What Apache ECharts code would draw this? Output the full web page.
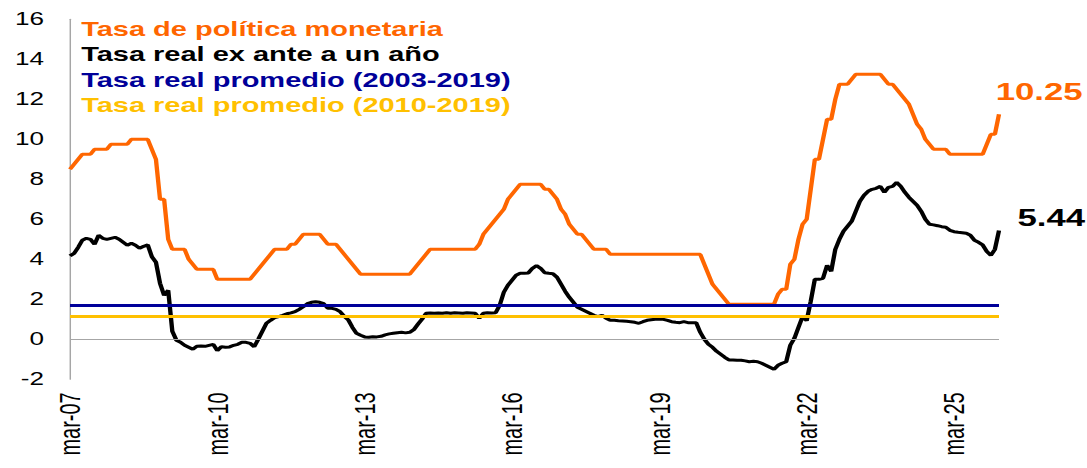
<!DOCTYPE html>
<html>
<head>
<meta charset="utf-8">
<script src="https://cdn.jsdelivr.net/npm/echarts@6.0.0/dist/echarts.min.js"></script>
<style>
  html, body { margin: 0; padding: 0; overflow: hidden; background: #fff; }
  /* the source picture is stretched sideways, so the chart is drawn narrow and widened */
  #chart { width: 750px; height: 468px; transform: scaleX(1.4493); transform-origin: 0 0; }
</style>
</head>
<body>
<div id="chart"></div>
<script>
// monthly, mar-07 .. feb-26
const meses = ['ene', 'feb', 'mar', 'abr', 'may', 'jun', 'jul', 'ago', 'sep', 'oct', 'nov', 'dic'];
const categories = [];
for (let k = 0; k < 228; k++) {
  const m = (2 + k) % 12;
  const y = 7 + Math.floor((2 + k) / 12);
  categories.push(meses[m] + '-' + String(y).padStart(2, '0'));
}

const tasaPolitica = [
  8.5, 8.75, 9.0, 9.25, 9.25, 9.25, 9.5, 9.5, 9.5, 9.5, 9.75, 9.75,
  9.75, 9.75, 9.75, 10, 10, 10, 10, 10, 9.5, 9.0, 7.0, 7.0,
  5.0, 4.5, 4.5, 4.5, 4.5, 4.0, 3.75, 3.5, 3.5, 3.5, 3.5, 3.5,
  3.0, 3.0, 3.0, 3.0, 3.0, 3.0, 3.0, 3.0, 3.0, 3.25, 3.5, 3.75,
  4.0, 4.25, 4.5, 4.5, 4.5, 4.5, 4.75, 4.75, 5.0, 5.25, 5.25, 5.25,
  5.25, 5.25, 5.0, 4.75, 4.75, 4.75, 4.5, 4.25, 4.0, 3.75, 3.5, 3.25,
  3.25, 3.25, 3.25, 3.25, 3.25, 3.25, 3.25, 3.25, 3.25, 3.25, 3.25, 3.25,
  3.5, 3.75, 4.0, 4.25, 4.5, 4.5, 4.5, 4.5, 4.5, 4.5, 4.5, 4.5,
  4.5, 4.5, 4.5, 4.5, 4.75, 5.25, 5.5, 5.75, 6.0, 6.25, 6.5, 7.0,
  7.25, 7.5, 7.75, 7.75, 7.75, 7.75, 7.75, 7.75, 7.5, 7.5, 7.25, 7.0,
  6.5, 6.25, 5.75, 5.5, 5.25, 5.25, 5.0, 4.75, 4.5, 4.5, 4.5, 4.5,
  4.25, 4.25, 4.25, 4.25, 4.25, 4.25, 4.25, 4.25, 4.25, 4.25, 4.25, 4.25,
  4.25, 4.25, 4.25, 4.25, 4.25, 4.25, 4.25, 4.25, 4.25, 4.25, 4.25, 3.75,
  3.25, 2.75, 2.5, 2.25, 2.0, 1.75, 1.75, 1.75, 1.75, 1.75, 1.75, 1.75,
  1.75, 1.75, 1.75, 1.75, 1.75, 2.25, 2.5, 2.5, 3.75, 4.0, 5.0, 5.75,
  6.0, 7.5, 9.0, 9.0, 10.0, 11.0, 11.0, 12.0, 12.75, 12.75, 12.75, 13.0,
  13.25, 13.25, 13.25, 13.25, 13.25, 13.25, 13.25, 13.0, 12.75, 12.75, 12.5, 12.25,
  12.0, 11.75, 11.25, 10.75, 10.5, 10.0, 9.75, 9.5, 9.5, 9.5, 9.5, 9.25,
  9.25, 9.25, 9.25, 9.25, 9.25, 9.25, 9.25, 9.25, 9.75, 10.25, 10.25, 11.25
];

const tasaRealExAnte = [
  4.17, 4.3, 4.6, 4.95, 5.05, 5.0, 4.75, 5.2, 5.05, 5.0, 5.05, 5.1,
  5.0, 4.85, 4.7, 4.8, 4.7, 4.55, 4.65, 4.72, 4.13, 3.85, 2.8, 2.2,
  2.45, 0.4, -0.05, -0.15, -0.3, -0.4, -0.5, -0.35, -0.33, -0.35, -0.3, -0.25,
  -0.57, -0.37, -0.4, -0.38, -0.3, -0.25, -0.15, -0.15, -0.2, -0.37, 0.0, 0.4,
  0.8, 0.95, 1.08, 1.13, 1.2, 1.28, 1.32, 1.38, 1.5, 1.63, 1.78, 1.85,
  1.88, 1.85, 1.78, 1.55, 1.55, 1.5, 1.38, 1.15, 0.97, 0.6, 0.3, 0.2,
  0.12, 0.1, 0.13, 0.12, 0.15, 0.22, 0.27, 0.3, 0.33, 0.35, 0.32, 0.35,
  0.48, 0.75, 1.0, 1.3, 1.32, 1.3, 1.32, 1.3, 1.33, 1.3, 1.33, 1.32,
  1.3, 1.33, 1.32, 1.3, 1.05, 1.3, 1.33, 1.32, 1.33, 1.7, 2.35, 2.7,
  2.95, 3.2, 3.3, 3.3, 3.32, 3.55, 3.68, 3.55, 3.33, 3.3, 3.28, 3.1,
  2.75, 2.4, 2.1, 1.85, 1.6, 1.5, 1.4, 1.3, 1.2, 1.13, 1.2, 1.05,
  0.95, 0.95, 0.93, 0.92, 0.9, 0.88, 0.85, 0.8, 0.88, 0.95, 0.98, 1.0,
  1.0, 1.0, 0.95, 0.88, 0.85, 0.83, 0.88, 0.83, 0.83, 0.83, 0.35, 0.0,
  -0.25, -0.4, -0.6, -0.75, -0.9, -1.03, -1.03, -1.05, -1.05, -1.08, -1.12, -1.1,
  -1.12, -1.2, -1.3, -1.4, -1.5, -1.3, -1.2, -1.12, -0.3, 0.05, 0.6, 1.13,
  0.93, 1.9, 3.0, 3.0, 3.05, 3.7, 3.4, 4.5, 5.0, 5.4, 5.65, 5.9,
  6.4, 6.9, 7.2, 7.4, 7.5, 7.55, 7.65, 7.35, 7.6, 7.65, 7.85, 7.65,
  7.35, 7.1, 6.9, 6.7, 6.4, 6.0, 5.75, 5.72, 5.68, 5.63, 5.6, 5.45,
  5.38, 5.35, 5.33, 5.3, 5.2, 4.95, 4.85, 4.72, 4.4, 4.2, 4.5, 5.44
];

const promedio2003_2019 = 1.71;
const promedio2010_2019 = 1.16;

const etiquetaPolitica = '10.25';
const etiquetaReal = '5.44';

const yMin = -2, yMax = 16, yStep = 2;

const leyenda = [
  { name: 'Tasa de política monetaria', color: '#FF6600' },
  { name: 'Tasa real ex ante a un año', color: '#000000' },
  { name: 'Tasa real promedio (2003-2019)', color: '#000099' },
  { name: 'Tasa real promedio (2010-2019)', color: '#FFC000' }
];

const font = '"Liberation Sans", Arial, sans-serif';

const chart = echarts.init(document.getElementById('chart'), null, { renderer: 'svg' });

const graphics = leyenda.map((item, k) => ({
  type: 'text',
  x: 56,
  y: 29 + k * 25.2,
  style: {
    text: item.name,
    fill: item.color,
    font: 'bold 20px ' + font,
    verticalAlign: 'middle'
  }
}));
graphics.push({
  type: 'text', x: 687, y: 92,
  style: { text: etiquetaPolitica, fill: '#FF6600', font: 'bold 24px ' + font, verticalAlign: 'middle' }
});
graphics.push({
  type: 'text', x: 702, y: 218,
  style: { text: etiquetaReal, fill: '#000000', font: 'bold 24px ' + font, verticalAlign: 'middle' }
});

const option = {
  animation: false,
  grid: {
    left: 48.3,
    right: 60.7,
    top: 19.3,
    bottom: 88.7
  },
  xAxis: {
    type: 'category',
    data: categories,
    boundaryGap: false,
    axisLine: { show: false, onZero: false },
    axisTick: { show: false },
    axisLabel: {
      interval: 35,
      rotate: 90,
      margin: 13,
      fontSize: 20,
      fontFamily: font,
      color: '#000'
    },
    splitLine: { show: false }
  },
  yAxis: {
    type: 'value',
    min: yMin,
    max: yMax,
    interval: yStep,
    axisLine: { show: true, lineStyle: { color: '#A6A6A6', width: 1 } },
    axisTick: { show: false },
    axisLabel: {
      margin: 18,
      fontSize: 18,
      fontFamily: font,
      color: '#000'
    },
    splitLine: { show: false }
  },
  series: [
    {
      name: 'Tasa de política monetaria',
      type: 'line',
      data: tasaPolitica,
      symbol: 'none',
      lineStyle: { color: '#FF6600', width: 3 },
      markLine: {
        silent: true,
        symbol: 'none',
        label: { show: false },
        data: [
          { yAxis: 0, lineStyle: { color: '#A6A6A6', width: 1, type: 'solid' } },
          { yAxis: promedio2003_2019, lineStyle: { color: '#000099', width: 3, type: 'solid' } },
          { yAxis: promedio2010_2019, lineStyle: { color: '#FFC000', width: 3, type: 'solid' } }
        ]
      }
    },
    {
      name: 'Tasa real ex ante a un año',
      type: 'line',
      data: tasaRealExAnte,
      symbol: 'none',
      lineStyle: { color: '#000000', width: 3 },
      z: 3
    }
  ],
  graphic: graphics
};

chart.setOption(option);
</script>
</body>
</html>
